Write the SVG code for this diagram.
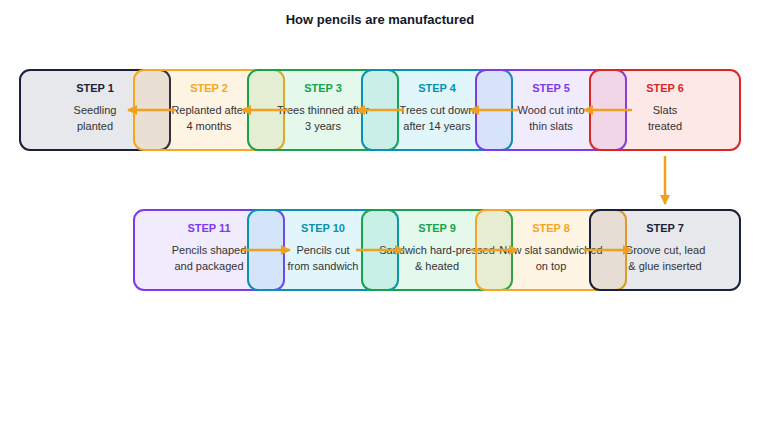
<svg xmlns="http://www.w3.org/2000/svg" width="760" height="440" viewBox="0 0 760 440">
<defs>
<marker id="ah" markerWidth="10" markerHeight="10" refX="9" refY="5" orient="auto" markerUnits="userSpaceOnUse" viewBox="0 0 10 10"><path d="M0,0 L10,5 L0,10 z" fill="#f0a020"/></marker>
<style>
text{font-family:"Liberation Sans",Arial,sans-serif;text-anchor:middle}
.t{font-size:11px;font-weight:bold}
.d{font-size:11px;fill:#333}
rect{stroke-width:2;fill-opacity:0.12}
.k{stroke:#1a1f3a;fill:#3a4060}
.o{stroke:#f5a623;fill:#f5a623}
.g{stroke:#16a34a;fill:#22c55e}
.c{stroke:#0891b2;fill:#06b6d4}
.p{stroke:#7c3aed;fill:#8b5cf6}
.r{stroke:#dc2626;fill:#ef4444}
.a{stroke:#f0a020;stroke-width:2.5;fill:none;marker-end:url(#ah)}
</style>
</defs>
<rect width="760" height="440" fill="#fff" style="fill-opacity:1;stroke:none"/>
<text x="380" y="24" style="font-size:13px;font-weight:bold;fill:#111827">How pencils are manufactured</text>
<g id="step1"><rect class="k" x="20" y="70" width="150" height="80" rx="10"/><text class="t" x="95" y="92" fill="#1a1f3a">STEP 1</text><text class="d" x="95" y="114">Seedling</text><text class="d" x="95" y="130">planted</text></g>
<g id="step2"><rect class="o" x="134" y="70" width="150" height="80" rx="10"/><text class="t" x="209" y="92" fill="#f5a623">STEP 2</text><text class="d" x="209" y="114">Replanted after</text><text class="d" x="209" y="130">4 months</text></g>
<g id="step3"><rect class="g" x="248" y="70" width="150" height="80" rx="10"/><text class="t" x="323" y="92" fill="#16a34a">STEP 3</text><text class="d" x="323" y="114">Trees thinned after</text><text class="d" x="323" y="130">3 years</text></g>
<g id="step4"><rect class="c" x="362" y="70" width="150" height="80" rx="10"/><text class="t" x="437" y="92" fill="#0891b2">STEP 4</text><text class="d" x="437" y="114">Trees cut down</text><text class="d" x="437" y="130">after 14 years</text></g>
<g id="step5"><rect class="p" x="476" y="70" width="150" height="80" rx="10"/><text class="t" x="551" y="92" fill="#7c3aed">STEP 5</text><text class="d" x="551" y="114">Wood cut into</text><text class="d" x="551" y="130">thin slats</text></g>
<g id="step6"><rect class="r" x="590" y="70" width="150" height="80" rx="10"/><text class="t" x="665" y="92" fill="#dc2626">STEP 6</text><text class="d" x="665" y="114">Slats</text><text class="d" x="665" y="130">treated</text></g>
<g id="step11"><rect class="p" x="134" y="210" width="150" height="80" rx="10"/><text class="t" x="209" y="232" fill="#7c3aed">STEP 11</text><text class="d" x="209" y="254">Pencils shaped</text><text class="d" x="209" y="270">and packaged</text></g>
<g id="step10"><rect class="c" x="248" y="210" width="150" height="80" rx="10"/><text class="t" x="323" y="232" fill="#0891b2">STEP 10</text><text class="d" x="323" y="254">Pencils cut</text><text class="d" x="323" y="270">from sandwich</text></g>
<g id="step9"><rect class="g" x="362" y="210" width="150" height="80" rx="10"/><text class="t" x="437" y="232" fill="#16a34a">STEP 9</text><text class="d" x="437" y="254">Sandwich hard-pressed</text><text class="d" x="437" y="270">&amp; heated</text></g>
<g id="step8"><rect class="o" x="476" y="210" width="150" height="80" rx="10"/><text class="t" x="551" y="232" fill="#f5a623">STEP 8</text><text class="d" x="551" y="254">New slat sandwiched</text><text class="d" x="551" y="270">on top</text></g>
<g id="step7"><rect class="k" x="590" y="210" width="150" height="80" rx="10"/><text class="t" x="665" y="232" fill="#1a1f3a">STEP 7</text><text class="d" x="665" y="254">Groove cut, lead</text><text class="d" x="665" y="270">&amp; glue inserted</text></g>
<g id="connectors">
<line class="a" x1="176" y1="110" x2="128" y2="110"/>
<line class="a" x1="290" y1="110" x2="242" y2="110"/>
<line class="a" x1="404" y1="110" x2="356" y2="110"/>
<line class="a" x1="518" y1="110" x2="470" y2="110"/>
<line class="a" x1="632" y1="110" x2="584" y2="110"/>
<line class="a" x1="665" y1="156" x2="665" y2="204"/>
<line class="a" x1="242" y1="250" x2="290" y2="250"/>
<line class="a" x1="356" y1="250" x2="404" y2="250"/>
<line class="a" x1="470" y1="250" x2="518" y2="250"/>
<line class="a" x1="584" y1="250" x2="632" y2="250"/>
</g>
</svg>
